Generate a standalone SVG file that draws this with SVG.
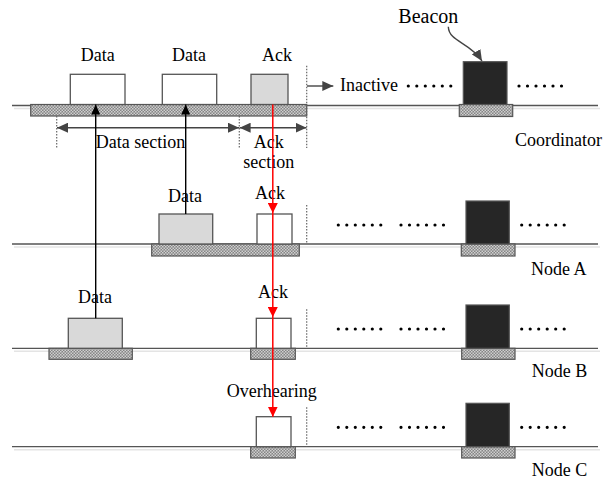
<svg xmlns="http://www.w3.org/2000/svg" width="604" height="481" viewBox="0 0 604 481">
<defs>
<pattern id="hatch" width="3" height="3" patternUnits="userSpaceOnUse">
<rect width="3" height="3" fill="#858585"/>
<rect width="1.5" height="1.5" fill="#cfcfcf"/>
<rect x="1.5" y="1.5" width="1.5" height="1.5" fill="#cfcfcf"/>
</pattern>
<marker id="ad" markerUnits="userSpaceOnUse" markerWidth="12" markerHeight="10" refX="11" refY="5" orient="auto-start-reverse"><path d="M0,0 L11,5 L0,10 z" fill="#444"/></marker>
<marker id="ab" markerUnits="userSpaceOnUse" markerWidth="10" markerHeight="10" refX="10" refY="4.5" orient="auto"><path d="M0,0 L10,4.5 L0,9 z" fill="#000"/></marker>
<marker id="ar" markerUnits="userSpaceOnUse" markerWidth="10" markerHeight="10" refX="10" refY="5" orient="auto"><path d="M0,0 L10,5 L0,10 z" fill="#f00"/></marker>
</defs>
<style>
text{font-family:"Liberation Serif","Times New Roman",serif;font-size:18px;fill:#000}
.c{text-anchor:middle}
.tl{stroke:#555;stroke-width:1.3;fill:none}
.sh{stroke:#e4e4e4;stroke-width:1.5;fill:none}
.hb{fill:url(#hatch);stroke:#555;stroke-width:1.2}
.wb{fill:#fff;stroke:#555;stroke-width:1.3}
.gb{fill:#d9d9d9;stroke:#555;stroke-width:1.3}
.bb{fill:#262626;stroke:#555;stroke-width:1.2}
.dv{stroke:#666;stroke-width:1.2;stroke-dasharray:1.5,1.5;fill:none}
.dots{stroke:#000;stroke-width:3.2;stroke-linecap:round;stroke-dasharray:0,8.5;fill:none}
.blk{stroke:#000;stroke-width:1.4;fill:none}
.red{stroke:#f00;stroke-width:1.5;fill:none}
.dk{stroke:#444;stroke-width:1.4;fill:none}
</style>

<g id="coordinator">
<line class="sh" x1="14" y1="108.5" x2="600" y2="108.5"/>
<line class="tl" x1="12" y1="105.5" x2="598" y2="105.5"/>
<rect class="hb" x="30.7" y="104.5" width="276" height="11.5"/>
<rect class="wb" x="70.3" y="74.3" width="54.7" height="30.2"/>
<rect class="wb" x="162.3" y="74.3" width="54.4" height="30.2"/>
<rect class="gb" x="251" y="74.3" width="37" height="30.2"/>
<rect class="hb" x="459.3" y="104.5" width="53.4" height="12"/>
<rect class="bb" x="463.3" y="61.7" width="43.7" height="42.8"/>
<text class="c" x="97.7" y="61">Data</text>
<text class="c" x="189" y="61">Data</text>
<text class="c" x="277" y="61">Ack</text>
<text class="c" x="428.3" y="22.7" style="font-size:20px">Beacon</text>
<text x="340" y="90.7">Inactive</text>
<line class="dots" x1="408.3" y1="86" x2="452" y2="86"/>
<line class="dots" x1="519" y1="86" x2="564" y2="86"/>
<line class="dv" x1="306.7" y1="65.7" x2="306.7" y2="148"/>
<line class="dv" x1="56.7" y1="116" x2="56.7" y2="148"/>
<line class="dv" x1="239.3" y1="116" x2="239.3" y2="148"/>
<text x="95.7" y="147.7">Data section</text>
<text class="c" x="268.7" y="147.7">Ack</text>
<text class="c" x="268.7" y="167.7">section</text>
<text x="515" y="145.7">Coordinator</text>
</g>

<g id="nodeA">
<line class="sh" x1="14" y1="247" x2="600" y2="247"/>
<line class="tl" x1="12" y1="244" x2="598" y2="244"/>
<rect class="hb" x="151.7" y="244" width="147.6" height="12"/>
<rect class="gb" x="159" y="214" width="53.7" height="30"/>
<rect class="wb" x="257" y="214" width="35" height="30"/>
<rect class="hb" x="461.3" y="244" width="53.7" height="12"/>
<rect class="bb" x="466" y="201" width="43.3" height="43"/>
<line class="dv" x1="306.7" y1="205" x2="306.7" y2="244"/>
<line class="dots" x1="338.3" y1="225" x2="382" y2="225"/>
<line class="dots" x1="401" y1="225" x2="444.5" y2="225"/>
<line class="dots" x1="521.7" y1="225" x2="565.5" y2="225"/>
<text class="c" x="185" y="201.7">Data</text>
<text class="c" x="270" y="199.3">Ack</text>
<text x="531" y="275">Node A</text>
</g>

<g id="nodeB">
<line class="sh" x1="14" y1="351.3" x2="600" y2="351.3"/>
<line class="tl" x1="12" y1="348.3" x2="598" y2="348.3"/>
<rect class="hb" x="49" y="348.3" width="83.3" height="11"/>
<rect class="gb" x="68.3" y="318.3" width="54" height="30"/>
<rect class="hb" x="250.7" y="348.3" width="44.6" height="11"/>
<rect class="wb" x="256.3" y="318.3" width="34.7" height="30"/>
<rect class="hb" x="461.7" y="348.3" width="53.3" height="11"/>
<rect class="bb" x="466" y="305" width="43.3" height="43.3"/>
<line class="dv" x1="306.7" y1="309.3" x2="306.7" y2="348.3"/>
<line class="dots" x1="338.3" y1="329" x2="382" y2="329"/>
<line class="dots" x1="401" y1="329" x2="444.5" y2="329"/>
<line class="dots" x1="521.7" y1="329" x2="565.5" y2="329"/>
<text class="c" x="95" y="302.7">Data</text>
<text class="c" x="273" y="298.3">Ack</text>
<text x="531.7" y="377.3">Node B</text>
</g>

<g id="nodeC">
<line class="sh" x1="14" y1="449.7" x2="600" y2="449.7"/>
<line class="tl" x1="12" y1="446.7" x2="598" y2="446.7"/>
<rect class="hb" x="250.7" y="446.7" width="44.6" height="11.3"/>
<rect class="wb" x="256.3" y="416.7" width="34.7" height="30"/>
<rect class="hb" x="461.7" y="446.7" width="53.3" height="11.3"/>
<rect class="bb" x="466" y="403.3" width="43.3" height="43.4"/>
<line class="dv" x1="306.7" y1="407.3" x2="306.7" y2="446.7"/>
<line class="dots" x1="338.3" y1="427.3" x2="382" y2="427.3"/>
<line class="dots" x1="401" y1="427.3" x2="444.5" y2="427.3"/>
<line class="dots" x1="521.7" y1="427.3" x2="565.5" y2="427.3"/>
<text x="226.7" y="396.7">Overhearing</text>
<text x="531.7" y="476">Node C</text>
</g>

<g id="connectors">
<line class="dk" x1="57" y1="127.7" x2="239" y2="127.7" marker-start="url(#ad)" marker-end="url(#ad)"/>
<line class="dk" x1="239.6" y1="127.7" x2="306.5" y2="127.7" marker-start="url(#ad)" marker-end="url(#ad)"/>
<line class="dk" x1="307" y1="86" x2="333.3" y2="86" marker-end="url(#ad)"/>
<path class="dk" d="M448.3,26.7 C449,42 470,42 482,61" marker-end="url(#ad)"/>
<line class="blk" x1="95.7" y1="318.3" x2="95.7" y2="104.5" marker-end="url(#ab)"/>
<line class="blk" x1="185.7" y1="214" x2="185.7" y2="104.5" marker-end="url(#ab)"/>
<line class="red" x1="272.8" y1="104.5" x2="272.8" y2="213" marker-end="url(#ar)"/>
<line class="red" x1="272.8" y1="213" x2="272.8" y2="317" marker-end="url(#ar)"/>
<line class="red" x1="272.8" y1="317" x2="272.8" y2="416.7" marker-end="url(#ar)"/>
</g>
</svg>
